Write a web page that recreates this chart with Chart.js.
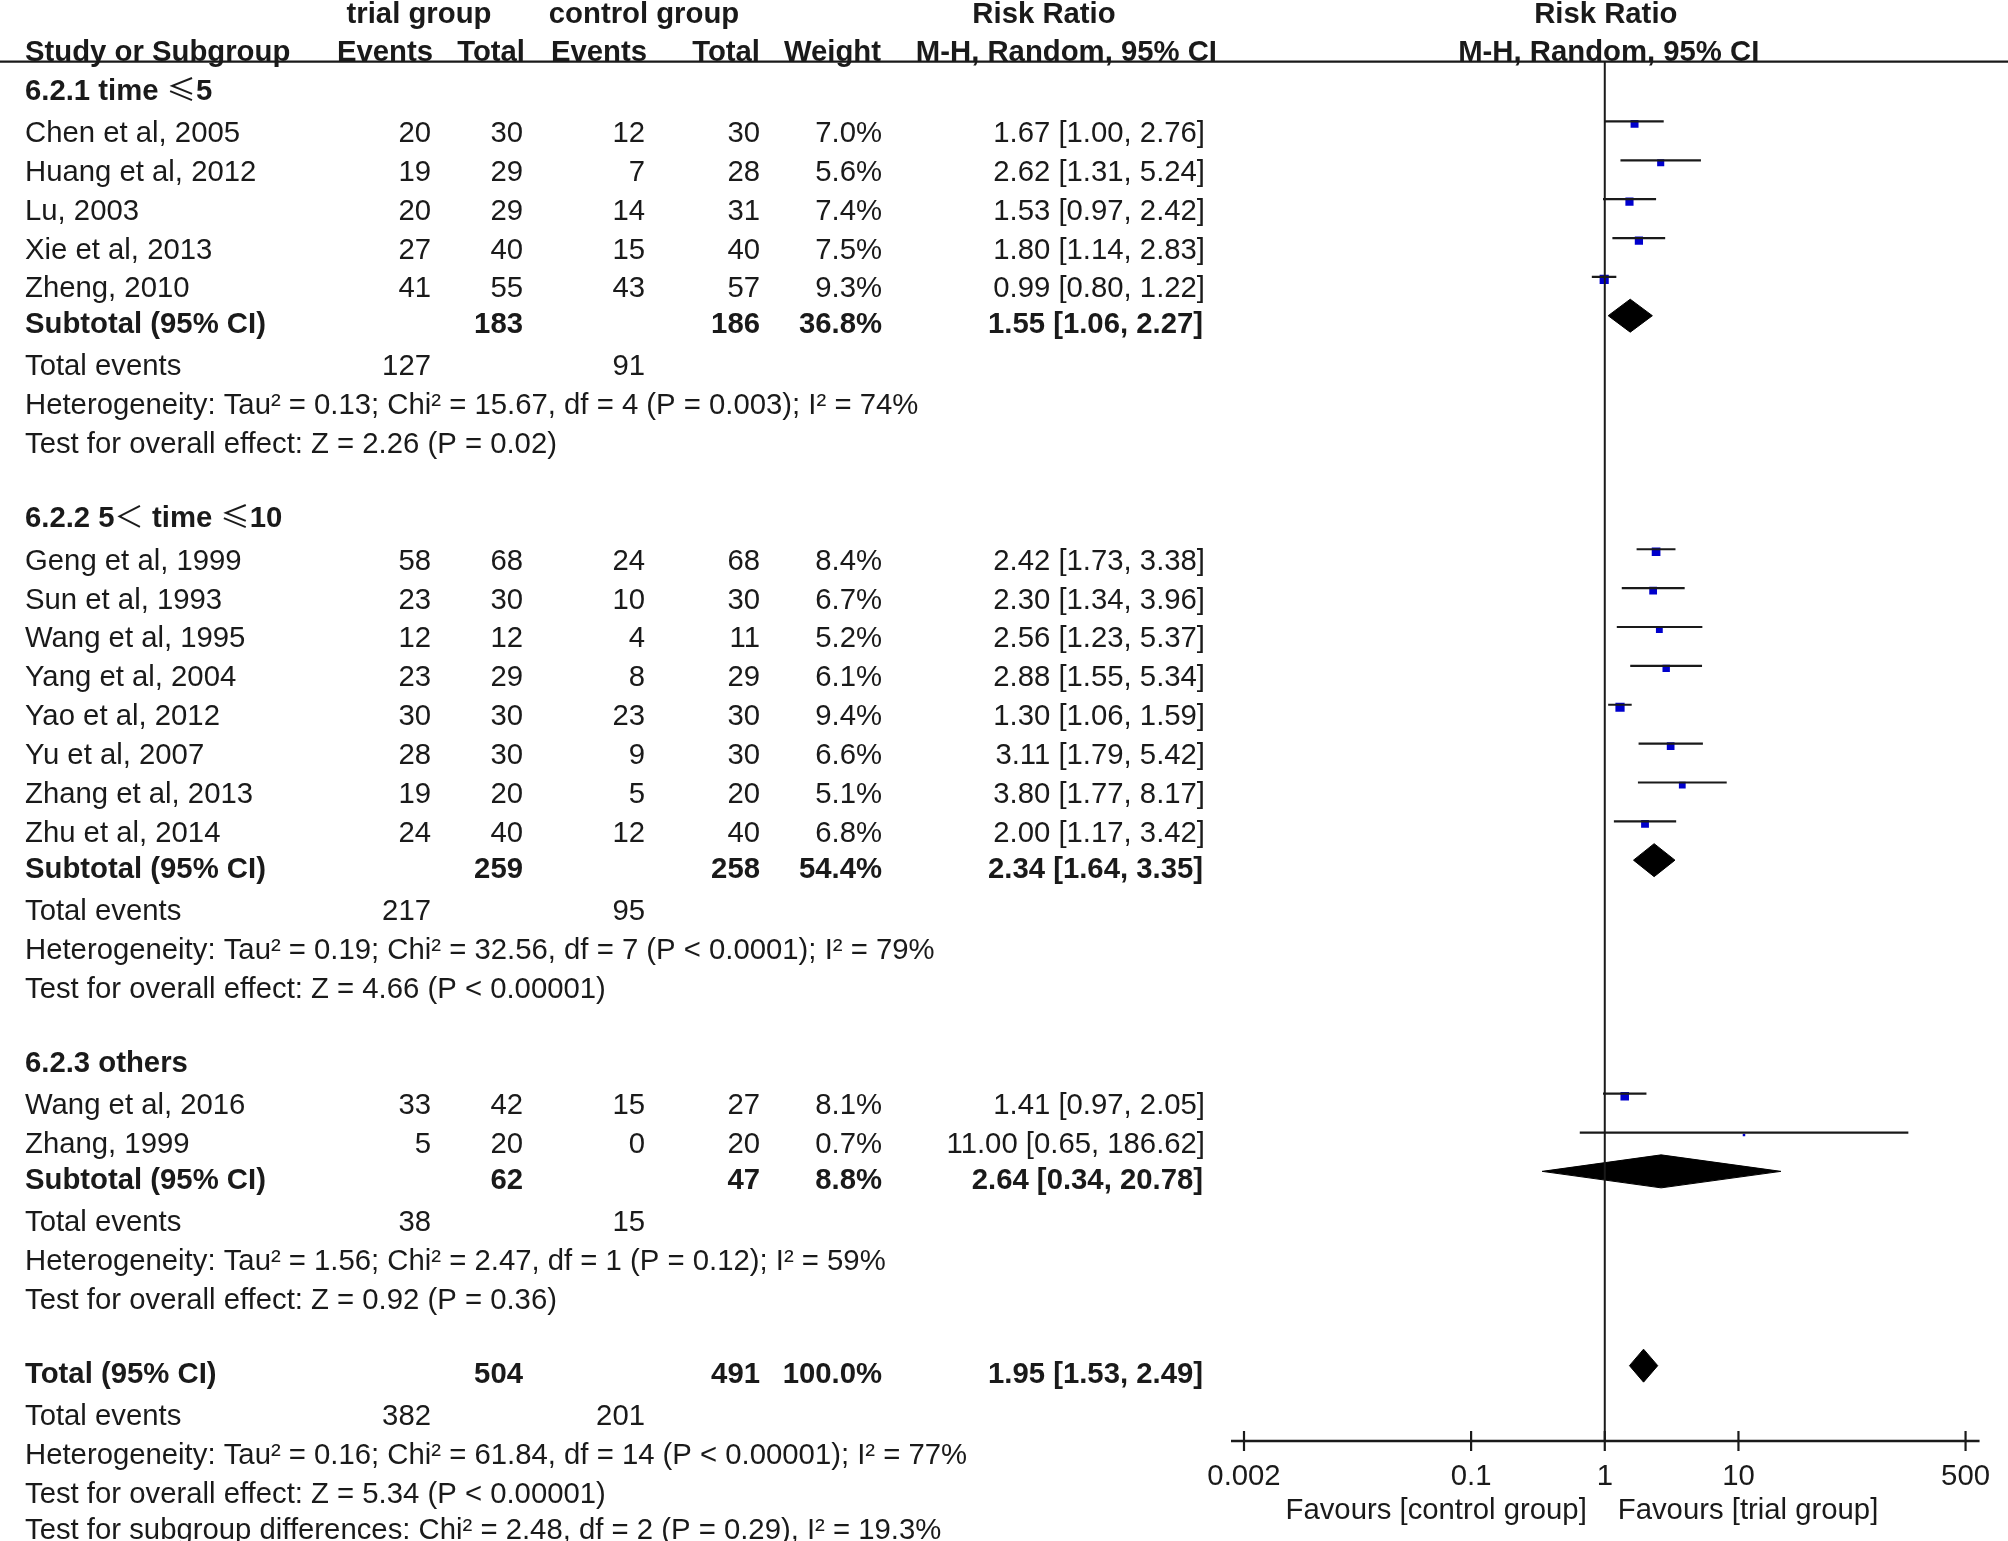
<!DOCTYPE html>
<html><head><meta charset="utf-8">
<script src="https://cdn.jsdelivr.net/npm/chart.js@4.4.1/dist/chart.umd.min.js"></script>
<style>html,body{margin:0;padding:0;background:#fff;overflow:hidden}#wrap{width:2008px;height:1541px;position:relative}</style>
</head><body><div id="wrap"><canvas id="c"></canvas></div>
<script>
// ---------------- data ----------------
const groupNames = ['6.2.1 time ≤5', '6.2.2 5＜ time ≤10', '6.2.3 others'];
const studyNames = ['Chen et al, 2005','Huang et al, 2012','Lu, 2003','Xie et al, 2013','Zheng, 2010',
  'Geng et al, 1999','Sun et al, 1993','Wang et al, 1995','Yang et al, 2004','Yao et al, 2012','Yu et al, 2007','Zhang et al, 2013','Zhu et al, 2014',
  'Wang et al, 2016','Zhang, 1999'];
const studyGroup = [0,0,0,0,0, 1,1,1,1,1,1,1,1, 2,2];
const trialEvents = [20,19,20,27,41, 58,23,12,23,30,28,19,24, 33,5];
const trialTotal  = [30,29,29,40,55, 68,30,12,29,30,30,20,40, 42,20];
const ctrlEvents  = [12,7,14,15,43, 24,10,4,8,23,9,5,12, 15,0];
const ctrlTotal   = [30,28,31,40,57, 68,30,11,29,30,30,20,40, 27,20];
const weights     = [7.0,5.6,7.4,7.5,9.3, 8.4,6.7,5.2,6.1,9.4,6.6,5.1,6.8, 8.1,0.7];
const rr          = [1.67,2.62,1.53,1.80,0.99, 2.42,2.30,2.56,2.88,1.30,3.11,3.80,2.00, 1.41,11.00];
const rrLow       = [1.00,1.31,0.97,1.14,0.80, 1.73,1.34,1.23,1.55,1.06,1.79,1.77,1.17, 0.97,0.65];
const rrHigh      = [2.76,5.24,2.42,2.83,1.22, 3.38,3.96,5.37,5.34,1.59,5.42,8.17,3.42, 2.05,186.62];

const subTrialTotal  = [183,259,62];
const subCtrlTotal   = [186,258,47];
const subWeight      = [36.8,54.4,8.8];
const subRR          = [1.55,2.34,2.64];
const subLow         = [1.06,1.64,0.34];
const subHigh        = [2.27,3.35,20.78];
const subTrialEvents = [127,217,38];
const subCtrlEvents  = [91,95,15];
const subHet = ['Heterogeneity: Tau² = 0.13; Chi² = 15.67, df = 4 (P = 0.003); I² = 74%',
                'Heterogeneity: Tau² = 0.19; Chi² = 32.56, df = 7 (P < 0.0001); I² = 79%',
                'Heterogeneity: Tau² = 1.56; Chi² = 2.47, df = 1 (P = 0.12); I² = 59%'];
const subTest = ['Test for overall effect: Z = 2.26 (P = 0.02)',
                 'Test for overall effect: Z = 4.66 (P < 0.00001)',
                 'Test for overall effect: Z = 0.92 (P = 0.36)'];

const totalTrialTotal = 504, totalCtrlTotal = 491, totalWeight = 100.0;
const totalRR = [1.95], totalLow = [1.53], totalHigh = [2.49];
const totalTrialEvents = 382, totalCtrlEvents = 201;
const totalHet = 'Heterogeneity: Tau² = 0.16; Chi² = 61.84, df = 14 (P < 0.00001); I² = 77%';
const totalTest = 'Test for overall effect: Z = 5.34 (P < 0.00001)';
const subgroupTest = 'Test for subgroup differences: Chi² = 2.48, df = 2 (P = 0.29), I² = 19.3%';

const tickValues = [0.002, 0.1, 1, 10, 500];
const tickLabels = ['0.002', '0.1', '1', '10', '500'];
const favoursLeft = 'Favours [control group]';
const favoursRight = 'Favours [trial group]';

// ---------------- layout / style ----------------
const W = 2008, H = 1541;
const INK = '#1a1a1a';
const FAMILY = "'Liberation Sans', Arial, 'Noto Sans CJK SC', sans-serif";
const SYM_FAMILY = "'Noto Sans CJK SC', 'DejaVu Sans', sans-serif";
const FS = 29.3;
const PX0 = 131.9, UNIT = 38.88, AXIS_H = 100;
const X_LEFT = 1244, X_RIGHT = 1967;
const yMin = -PX0 / UNIT;
const yMax = yMin + (H - AXIS_H) / UNIT;
const BASE = 10;               // baseline offset from row centre (px)
const CI_OFF = 10.5 / UNIT;    // CI line drawn slightly above text centre
const SQ_OFF = 8 / UNIT;
const DIA_OFF = 7.5 / UNIT;
const DIA_H = 16.5 / UNIT;
const RULE_R = -1.81, HEAD1_R = -3.06, HEAD2_R = -2.075;

// columns (px)
const C_LABEL = 25, C_TE = 431, C_TT = 523, C_CE = 645, C_CT = 760, C_W = 882, C_RR = 1205;

// row layout
const groupRow = [], studyRow = [], subRow = [], evRow = [], hetRow = [], testRow = [];
let cur = -1.07;
groupNames.forEach((g, gi) => {
  groupRow[gi] = cur; cur += (gi === 0 ? 1.07 : 1.087);
  let last = cur;
  studyNames.forEach((s, i) => { if (studyGroup[i] === gi) { studyRow[i] = cur; last = cur; cur += 1; } });
  subRow[gi] = last + 0.92;
  evRow[gi] = subRow[gi] + 1.087;
  hetRow[gi] = evRow[gi] + 1;
  testRow[gi] = hetRow[gi] + 1;
  cur = testRow[gi] + 1.91;
});
const totRow = cur, totEvRow = cur + 1.087, totHetRow = totEvRow + 1, totTestRow = totHetRow + 1, subgrpRow = totTestRow + 0.92;

const fmt2 = v => v.toFixed(2);
const ciText = (e, l, h) => fmt2(e) + ' [' + fmt2(l) + ', ' + fmt2(h) + ']';

// ---------------- datasets ----------------
const datasets = [];
datasets.push({ type: 'line', data: [{x: 1, y: RULE_R}, {x: 1, y: yMax}], borderColor: INK, borderWidth: 2, pointRadius: 0, fill: false });
studyNames.forEach((s, i) => {
  datasets.push({ type: 'line', data: [{x: rrLow[i], y: studyRow[i] - CI_OFF}, {x: rrHigh[i], y: studyRow[i] - CI_OFF}],
    borderColor: INK, borderWidth: 2.2, pointRadius: 0, fill: false });
});
datasets.push({ type: 'scatter', data: rr.map((v, i) => ({x: v, y: studyRow[i] - SQ_OFF})),
  pointStyle: 'rect', pointRadius: c => 3 * Math.sqrt(weights[c.dataIndex]) / Math.SQRT2,
  backgroundColor: '#0000CC', borderWidth: 0 });
function diamond(est, lo, hi, r) {
  const c = r - DIA_OFF;
  return { type: 'line', data: [{x: lo, y: c}, {x: est, y: c - DIA_H}, {x: hi, y: c}, {x: est, y: c + DIA_H}, {x: lo, y: c}],
    borderColor: '#000', backgroundColor: '#000', borderWidth: 1, pointRadius: 0, fill: 'shape', tension: 0 };
}
subRR.forEach((v, gi) => datasets.push(diamond(v, subLow[gi], subHigh[gi], subRow[gi])));
datasets.push(diamond(totalRR[0], totalLow[0], totalHigh[0], totRow));

// ---------------- text plugin ----------------
const SYM_RE = /([≤＜])/;
const tablePlugin = {
  id: 'tablePlugin',
  afterDraw(chart) {
    const ctx = chart.ctx, ys = chart.scales.y, xs = chart.scales.x, ca = chart.chartArea;
    const Y = r => ys.getPixelForValue(r);
    const put = (s, x, r, align, bold) => {
      const str = String(s);
      const main = (bold ? 'bold ' : '') + FS + 'px ' + FAMILY;
      const sym = FS + 'px ' + SYM_FAMILY;
      ctx.textBaseline = 'alphabetic'; ctx.fillStyle = INK;
      if (!SYM_RE.test(str)) {
        ctx.font = main; ctx.textAlign = align; ctx.fillText(str, x, Y(r) + BASE); return;
      }
      const parts = str.split(SYM_RE).filter(p => p.length);
      const widths = parts.map(p => { ctx.font = SYM_RE.test(p) ? sym : main; return ctx.measureText(p).width; });
      const total = widths.reduce((a, b) => a + b, 0);
      let px = align === 'left' ? x : align === 'right' ? x - total : x - total / 2;
      ctx.textAlign = 'left';
      parts.forEach((p, k) => { ctx.font = SYM_RE.test(p) ? sym : main; ctx.fillText(p, px, Y(r) + BASE); px += widths[k]; });
    };
    ctx.save();
    // headers
    const x1 = xs.getPixelForValue(1);
    put('trial group', 419, HEAD1_R, 'center', true);
    put('control group', 644, HEAD1_R, 'center', true);
    put('Risk Ratio', 1044, HEAD1_R, 'center', true);
    put('Risk Ratio', x1 + 1, HEAD1_R, 'center', true);
    put('Study or Subgroup', C_LABEL, HEAD2_R, 'left', true);
    put('Events', 433, HEAD2_R, 'right', true);
    put('Total', 525, HEAD2_R, 'right', true);
    put('Events', 647, HEAD2_R, 'right', true);
    put('Total', 760, HEAD2_R, 'right', true);
    put('Weight', 881, HEAD2_R, 'right', true);
    put('M-H, Random, 95% CI', 1217, HEAD2_R, 'right', true);
    put('M-H, Random, 95% CI', x1 + 4, HEAD2_R, 'center', true);
    // rule
    ctx.strokeStyle = INK; ctx.lineWidth = 2.2;
    ctx.beginPath(); ctx.moveTo(0, Y(RULE_R)); ctx.lineTo(chart.width, Y(RULE_R)); ctx.stroke();
    // groups
    groupNames.forEach((g, gi) => {
      put(g, C_LABEL, groupRow[gi], 'left', true);
      put(subTrialTotal[gi], C_TT, subRow[gi], 'right', true);
      put(subCtrlTotal[gi], C_CT, subRow[gi], 'right', true);
      put(subWeight[gi].toFixed(1) + '%', C_W, subRow[gi], 'right', true);
      put(ciText(subRR[gi], subLow[gi], subHigh[gi]), C_RR - 2, subRow[gi], 'right', true);
      put('Subtotal (95% CI)', C_LABEL, subRow[gi], 'left', true);
      put('Total events', C_LABEL, evRow[gi], 'left', false);
      put(subTrialEvents[gi], C_TE, evRow[gi], 'right', false);
      put(subCtrlEvents[gi], C_CE, evRow[gi], 'right', false);
      put(subHet[gi], C_LABEL, hetRow[gi], 'left', false);
      put(subTest[gi], C_LABEL, testRow[gi], 'left', false);
    });
    studyNames.forEach((s, i) => {
      const r = studyRow[i];
      put(s, C_LABEL, r, 'left', false);
      put(trialEvents[i], C_TE, r, 'right', false);
      put(trialTotal[i], C_TT, r, 'right', false);
      put(ctrlEvents[i], C_CE, r, 'right', false);
      put(ctrlTotal[i], C_CT, r, 'right', false);
      put(weights[i].toFixed(1) + '%', C_W, r, 'right', false);
      put(ciText(rr[i], rrLow[i], rrHigh[i]), C_RR, r, 'right', false);
    });
    // overall
    put('Total (95% CI)', C_LABEL, totRow, 'left', true);
    put(totalTrialTotal, C_TT, totRow, 'right', true);
    put(totalCtrlTotal, C_CT, totRow, 'right', true);
    put(totalWeight.toFixed(1) + '%', C_W, totRow, 'right', true);
    put(ciText(totalRR[0], totalLow[0], totalHigh[0]), C_RR - 2, totRow, 'right', true);
    put('Total events', C_LABEL, totEvRow, 'left', false);
    put(totalTrialEvents, C_TE, totEvRow, 'right', false);
    put(totalCtrlEvents, C_CE, totEvRow, 'right', false);
    put(totalHet, C_LABEL, totHetRow, 'left', false);
    put(totalTest, C_LABEL, totTestRow, 'left', false);
    put(subgroupTest, C_LABEL, subgrpRow, 'left', false);
    // x axis line + crossing ticks
    const ay = ca.bottom;
    const xa = xs.getPixelForValue(tickValues[0]) - 13, xb = xs.getPixelForValue(tickValues[tickValues.length - 1]) + 14;
    ctx.strokeStyle = INK; ctx.lineWidth = 2.5;
    ctx.beginPath(); ctx.moveTo(xa, ay); ctx.lineTo(xb, ay); ctx.stroke();
    ctx.lineWidth = 2.2;
    tickValues.forEach(v => {
      const px = xs.getPixelForValue(v);
      ctx.beginPath(); ctx.moveTo(px, ay - 10); ctx.lineTo(px, ay + 10); ctx.stroke();
    });
    // favours labels
    ctx.font = FS + 'px ' + FAMILY; ctx.fillStyle = INK; ctx.textBaseline = 'alphabetic';
    ctx.textAlign = 'right'; ctx.fillText(favoursLeft, x1 - 18, ay + 78);
    ctx.textAlign = 'left'; ctx.fillText(favoursRight, x1 + 13, ay + 78);
    ctx.restore();
  }
};

new Chart(document.getElementById('c'), {
  type: 'line',
  data: { datasets },
  options: {
    responsive: true, maintainAspectRatio: false, animation: false, events: [],
    layout: { padding: { left: X_LEFT, right: W - X_RIGHT, top: 0, bottom: 0 }, autoPadding: false },
    plugins: { legend: { display: false }, tooltip: { enabled: false } },
    scales: {
      x: {
        type: 'logarithmic', position: 'bottom', min: tickValues[0], max: tickValues[tickValues.length - 1],
        grid: { display: false, drawTicks: false }, border: { display: false },
        afterBuildTicks: s => { s.ticks = tickValues.map(v => ({ value: v })); },
        afterFit: s => { s.height = AXIS_H; },
        ticks: { autoSkip: false, maxRotation: 0, minRotation: 0, padding: 18, color: INK,
          font: { family: FAMILY, size: FS }, callback: (v, i) => tickLabels[i] }
      },
      y: { type: 'linear', display: false, reverse: true, min: yMin, max: yMax }
    }
  },
  plugins: [tablePlugin]
});
</script></body></html>
